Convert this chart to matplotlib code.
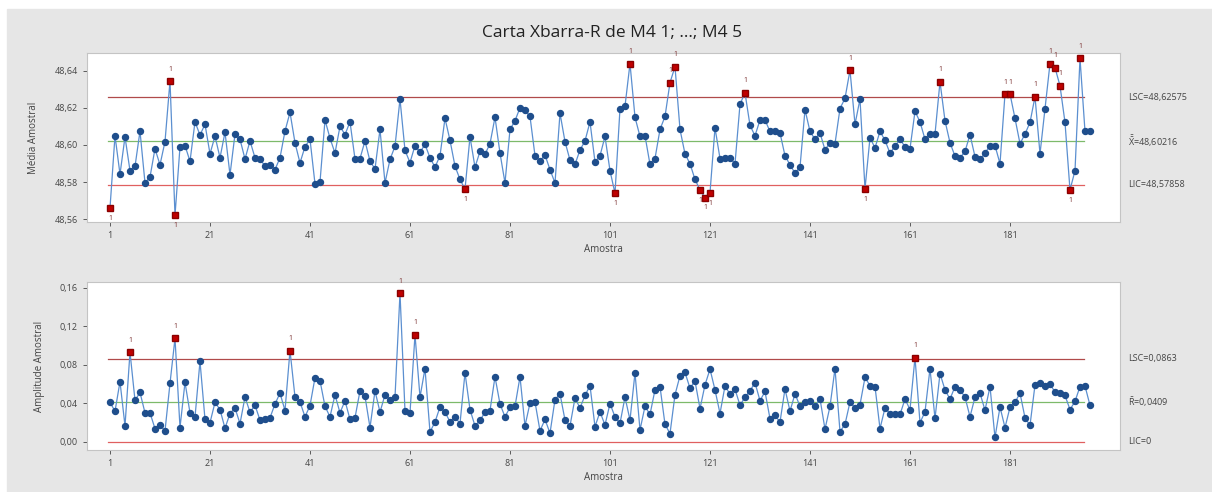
import matplotlib
matplotlib.use('Agg')
import matplotlib.pyplot as plt
from matplotlib.patches import Rectangle

# --- Data ---

TITLE = 'Carta Xbarra-R de M4 1; ...; M4 5'

XBAR = [
    48.5660, 48.6050, 48.5842, 48.6044, 48.5861, 48.5884, 48.6075, 48.5795, 48.5827, 48.5980,
    48.5893, 48.6018, 48.6346, 48.5620, 48.5990, 48.5997, 48.5912, 48.6125, 48.6054, 48.6112,
    48.5952, 48.6048, 48.5931, 48.6069, 48.5839, 48.6059, 48.6031, 48.5924, 48.6022, 48.5931,
    48.5924, 48.5886, 48.5893, 48.5867, 48.5931, 48.6075, 48.6176, 48.6012, 48.5903, 48.5991,
    48.6031, 48.5790, 48.5800, 48.6135, 48.6037, 48.5956, 48.6101, 48.6056, 48.6125, 48.5924,
    48.5927, 48.6022, 48.5912, 48.5871, 48.6084, 48.5795, 48.5922, 48.5993, 48.6248, 48.5971,
    48.5905, 48.5997, 48.5961, 48.6003, 48.5931, 48.5880, 48.5942, 48.6144, 48.6025, 48.5886,
    48.5814, 48.5761, 48.6044, 48.5880, 48.5965, 48.5950, 48.6007, 48.6150, 48.5956, 48.5795,
    48.6084, 48.6131, 48.6201, 48.6188, 48.6154, 48.5942, 48.5914, 48.5946, 48.5867, 48.5795,
    48.6172, 48.6018, 48.5918, 48.5895, 48.5973, 48.6022, 48.6125, 48.5908, 48.5942, 48.6046,
    48.5861, 48.5739, 48.6197, 48.6210, 48.6440, 48.6150, 48.6046, 48.6050, 48.5895, 48.5927,
    48.6084, 48.6154, 48.6337, 48.6423, 48.6084, 48.5952, 48.5899, 48.5814, 48.5757, 48.5716,
    48.5742, 48.6093, 48.5927, 48.5931, 48.5931, 48.5899, 48.6220, 48.6282, 48.6106, 48.6050,
    48.6135, 48.6135, 48.6073, 48.6078, 48.6065, 48.5942, 48.5893, 48.5848, 48.5880, 48.6191,
    48.6073, 48.6031, 48.6065, 48.5974, 48.6012, 48.6007, 48.6197, 48.6252, 48.6404, 48.6112,
    48.6248, 48.5763, 48.6040, 48.5984, 48.6074, 48.6025, 48.5956, 48.5993, 48.6031, 48.5990,
    48.5980, 48.6182, 48.6125, 48.6031, 48.6059, 48.6059, 48.6342, 48.6131, 48.6012, 48.5940,
    48.5931, 48.5965, 48.6056, 48.5937, 48.5922, 48.5956, 48.5997, 48.5997, 48.5899, 48.6276,
    48.6276, 48.6144, 48.6007, 48.6059, 48.6122, 48.6261, 48.5952, 48.6195, 48.6440, 48.6418,
    48.6320, 48.6122, 48.5757, 48.5861, 48.6469, 48.6073, 48.6075,
]

RANGE = [
    0.0409, 0.0317, 0.0624, 0.0164, 0.0931, 0.0430, 0.0512, 0.0300, 0.0300, 0.0136,
    0.0174, 0.0113, 0.0607, 0.1075, 0.0147, 0.0617, 0.0300, 0.0256, 0.0836, 0.0232,
    0.0198, 0.0409, 0.0334, 0.0140, 0.0293, 0.0351, 0.0188, 0.0464, 0.0307, 0.0379,
    0.0225, 0.0232, 0.0249, 0.0392, 0.0505, 0.0324, 0.0948, 0.0464, 0.0413, 0.0259,
    0.0375, 0.0665, 0.0634, 0.0368, 0.0259, 0.0488, 0.0300, 0.0426, 0.0232, 0.0249,
    0.0529, 0.0471, 0.0147, 0.0529, 0.0307, 0.0488, 0.0437, 0.0464, 0.1545, 0.0317,
    0.0300, 0.1112, 0.0464, 0.0760, 0.0102, 0.0205, 0.0361, 0.0307, 0.0208, 0.0259,
    0.0188, 0.0716, 0.0334, 0.0164, 0.0222, 0.0307, 0.0324, 0.0675, 0.0392, 0.0259,
    0.0358, 0.0368, 0.0675, 0.0164, 0.0402, 0.0413, 0.0113, 0.0232, 0.0089, 0.0437,
    0.0498, 0.0225, 0.0164, 0.0454, 0.0351, 0.0481, 0.0583, 0.0157, 0.0310, 0.0174,
    0.0396, 0.0259, 0.0191, 0.0464, 0.0225, 0.0716, 0.0123, 0.0368, 0.0283, 0.0539,
    0.0573, 0.0181, 0.0085, 0.0488, 0.0685, 0.0720, 0.0556, 0.0631, 0.0344, 0.0590,
    0.0754, 0.0539, 0.0293, 0.0580, 0.0494, 0.0546, 0.0378, 0.0464, 0.0529, 0.0614,
    0.0426, 0.0522, 0.0239, 0.0273, 0.0205, 0.0549, 0.0317, 0.0498, 0.0368, 0.0409,
    0.0419, 0.0368, 0.0447, 0.0130, 0.0368, 0.0760, 0.0106, 0.0181, 0.0413, 0.0351,
    0.0385, 0.0668, 0.0583, 0.0573, 0.0136, 0.0351, 0.0293, 0.0293, 0.0283, 0.0443,
    0.0334, 0.0875, 0.0198, 0.0310, 0.0760, 0.0242, 0.0709, 0.0539, 0.0443, 0.0573,
    0.0539, 0.0464, 0.0259, 0.0464, 0.0505, 0.0327, 0.0573, 0.0044, 0.0361, 0.0147,
    0.0358, 0.0409, 0.0505, 0.0249, 0.0170, 0.0590, 0.0607, 0.0580, 0.0600, 0.0515,
    0.0505, 0.0481, 0.0334, 0.0419, 0.0573, 0.0580, 0.0378,
]

# control limits: (LSC, centre, LIC)
XBAR_LIMITS = (48.62575, 48.60216, 48.57858)
RANGE_LIMITS = (0.0863, 0.0409, 0.0)

XBAR_LABELS = ['LSC=48,62575', r'$\bar{\bar{\mathrm{X}}}$=48,60216', 'LIC=48,57858']
RANGE_LABELS = ['LSC=0,0863', r'$\bar{\mathrm{R}}$=0,0409', 'LIC=0']

XTICKS = [1, 21, 41, 61, 81, 101, 121, 141, 161, 181]
XBAR_YTICKS = [48.56, 48.58, 48.60, 48.62, 48.64]
RANGE_YTICKS = [0.00, 0.04, 0.08, 0.12, 0.16]

# --- Style ---
plt.rcParams['font.family'] = ['Open Sans', 'DejaVu Sans']
plt.rcParams['mathtext.fontset'] = 'custom'
plt.rcParams['mathtext.rm'] = 'Open Sans'

BG = '#e6e6e6'
LINE_BLUE = '#5b8fd0'
DOT_BLUE = '#1f4e8c'
RED = '#c00000'
TEXT = '#444444'


def comma(v, nd):
    return f'{v:.{nd}f}'.replace('.', ',')


def draw_chart(ax, values, limits, labels, yticks, ylabel, ylim):
    xs = list(range(1, len(values) + 1))
    ucl, cl, lcl = limits
    ax.axhline(ucl, color='#b04a4a', lw=0.9, xmin=0.02, xmax=0.965)
    ax.axhline(lcl, color='#e06060', lw=0.9, xmin=0.02, xmax=0.965)
    ax.axhline(cl, color='#7dba6a', lw=0.9, xmin=0.02, xmax=0.965)

    ax.plot(xs, values, color=LINE_BLUE, lw=0.9, zorder=3)
    normal = [(x, v) for x, v in zip(xs, values) if lcl <= v <= ucl]
    out = [(x, v) for x, v in zip(xs, values) if v > ucl or v < lcl]
    ax.plot([p[0] for p in normal], [p[1] for p in normal], 'o', ms=4.3,
            color=DOT_BLUE, mec=DOT_BLUE, zorder=4)
    ax.plot([p[0] for p in out], [p[1] for p in out], 's', ms=4.8,
            color=RED, mec='#8a0000', zorder=5)
    for x, v in out:
        dy = 6 if v > ucl else -10
        ax.annotate('1', (x, v), xytext=(0, dy), textcoords='offset points',
                    ha='center', va='bottom', fontsize=5, color='#7a3030')

    ax.set_xlim(-3.6, 203)
    ax.set_ylim(*ylim)
    ax.set_xticks(XTICKS)
    ax.set_xticklabels([str(t) for t in XTICKS])
    ax.set_yticks(yticks)
    ax.set_yticklabels([comma(t, 2) for t in yticks])
    ax.tick_params(labelsize=6.5, colors=TEXT, length=3, width=0.6)
    ax.set_xlabel('Amostra', fontsize=7, color=TEXT, labelpad=3)
    ax.set_ylabel(ylabel, fontsize=7, color=TEXT, labelpad=11)
    for s in ax.spines.values():
        s.set_color('#c4c4c4')
        s.set_linewidth(0.8)

    # limit labels on the right
    for val, lab in zip(limits, labels):
        ax.annotate(lab, xy=(1.0, val), xycoords=('axes fraction', 'data'),
                    xytext=(6, 0), textcoords='offset points',
                    va='center', ha='left', fontsize=6.5, color=TEXT,
                    annotation_clip=False)


fig = plt.figure(figsize=(12.12, 4.92), dpi=100)
fig.patch.set_facecolor('white')
fig.patches.append(Rectangle((7 / 1212, 0), 1 - 7 / 1212, 1 - 9 / 492,
                             transform=fig.transFigure, color=BG, zorder=-10))

ax1 = fig.add_axes([87 / 1212, 1 - 222 / 492, (1120 - 87) / 1212, (222 - 53) / 492])
ax2 = fig.add_axes([87 / 1212, 1 - 450 / 492, (1120 - 87) / 1212, (450 - 282) / 492])

draw_chart(ax1, XBAR, XBAR_LIMITS, XBAR_LABELS, XBAR_YTICKS, 'Média Amostral',
           (48.5584, 48.6497))
draw_chart(ax2, RANGE, RANGE_LIMITS, RANGE_LABELS, RANGE_YTICKS, 'Amplitude Amostral',
           (-0.0086, 0.166))

fig.text(0.505, 1 - 33 / 492, TITLE, ha='center', va='center', fontsize=12.5,
         color='#222222')

fig.savefig('out.png', dpi=100, facecolor=fig.get_facecolor())
